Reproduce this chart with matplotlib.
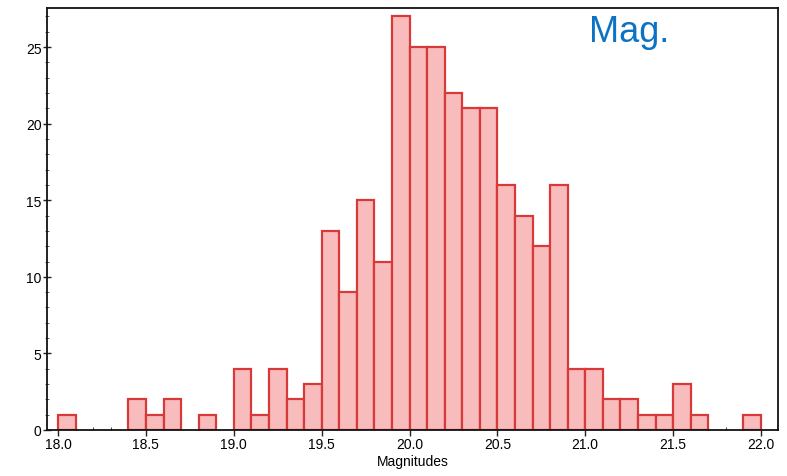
import matplotlib
matplotlib.use("Agg")
import matplotlib.pyplot as plt
from matplotlib.ticker import MultipleLocator
import numpy as np

plt.rcParams['font.family'] = ['Liberation Sans', 'DejaVu Sans']

bin_left = [18.0, 18.1, 18.2, 18.3, 18.4, 18.5, 18.6, 18.7, 18.8, 18.9,
            19.0, 19.1, 19.2, 19.3, 19.4, 19.5, 19.6, 19.7, 19.8, 19.9,
            20.0, 20.1, 20.2, 20.3, 20.4, 20.5, 20.6, 20.7, 20.8, 20.9,
            21.0, 21.1, 21.2, 21.3, 21.4, 21.5, 21.6, 21.7, 21.8, 21.9]
counts = [1, 0, 0, 0, 2, 1, 2, 0, 1, 0,
          4, 1, 4, 2, 3, 13, 9, 15, 11, 27,
          25, 25, 22, 21, 21, 16, 14, 12, 16, 4,
          4, 2, 2, 1, 1, 3, 1, 0, 0, 1]
bin_width = 0.1
x_ticks = [18.0, 18.5, 19.0, 19.5, 20.0, 20.5, 21.0, 21.5, 22.0]
y_ticks = [0, 5, 10, 15, 20, 25]

fig = plt.figure(figsize=(7.87, 4.77), dpi=100)
ax = fig.add_axes([47/787, 1-431/477, (778-47)/787, (431-9)/477])

for xl, c in zip(bin_left, counts):
    if c > 0:
        ax.bar(xl, c, width=bin_width, align='edge', color='#f9bcbc',
               edgecolor='#d83a3a', linewidth=1.6, zorder=2)

ax.set_xlim(17.937, 22.097)
ax.set_ylim(0, 27.55)
ax.set_xticks(x_ticks)
ax.set_xticklabels([f"{t:.1f}" for t in x_ticks])
ax.set_yticks(y_ticks)
ax.xaxis.set_minor_locator(MultipleLocator(0.1))
ax.yaxis.set_minor_locator(MultipleLocator(1))
ax.tick_params(axis='both', which='major', labelsize=10, color='#222222', length=4, width=1, pad=1)
ax.tick_params(axis='x', which='minor', direction='in', length=2, color='#222222')
ax.tick_params(axis='y', which='minor', direction='inout', length=3, color='#444444')
ax.tick_params(axis='y', which='major', direction='inout', length=6)
for s in ax.spines.values():
    s.set_linewidth(1.3)
    s.set_color('#111111')
ax.set_xlabel('Magnitudes', fontsize=10, labelpad=2)

ax.text(0.791, 0.95, 'Mag.', transform=fig.transFigure if False else ax.transAxes,
        fontsize=26, color='#0b72c4', ha='center', va='center')
# place text in figure coords for precision
ax.texts[-1].remove()
fig.text(629/787, 1-33/477, 'Mag.', fontsize=26, color='#0b72c4', ha='center', va='center')

fig.savefig('out.png', dpi=100)
